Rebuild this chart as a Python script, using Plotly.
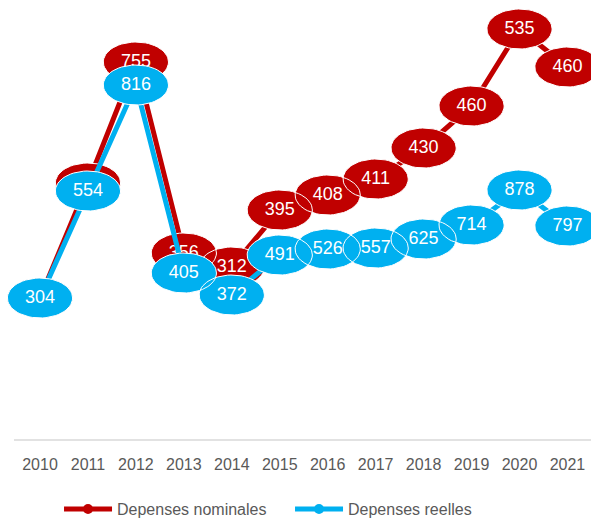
import numpy as np
import plotly.graph_objects as go

# ── Data ──────────────────────────────────────────────────────────────────────
years = [2010, 2011, 2012, 2013, 2014, 2015, 2016, 2017, 2018, 2019, 2020, 2021]

# plotted heights (as drawn in the source chart)
nominal_y = [142, 257, 378, 187, 173, 230, 245, 261, 292, 334, 411, 373]
reelles_y = [142, 249, 355, 167, 145, 185, 191, 192, 201, 215, 250, 214]

# labels written in the bubbles
nominal_labels = ["", "", "755", "356", "312", "395", "408", "411", "430", "460", "535", "460"]
reelles_labels = ["304", "554", "816", "405", "372", "491", "526", "557", "625", "714", "878", "797"]

RED = "#C00000"
BLUE = "#00B0F0"
GREY = "#595959"
FONT = "Liberation Sans, Arial, sans-serif"

X_RANGE = [2009.2492, 2021.4911]
Y_RANGE = [0, 440]
RX, RY = 0.68, 20  # bubble half-width (years) / half-height (y units)


def ellipse_path(xs, ys):
    """Outline of one bubble per point, separated by None so each fills alone."""
    t = np.linspace(0, 2 * np.pi, 60)
    px, py = [], []
    for x, y in zip(xs, ys):
        px += list(x + RX * np.cos(t)) + [None]
        py += list(y + RY * np.sin(t)) + [None]
    return px, py


fig = go.Figure()

for name, ys, labels, color in [
    ("Depenses nominales", nominal_y, nominal_labels, RED),
    ("Depenses reelles", reelles_y, reelles_labels, BLUE),
]:
    fig.add_trace(go.Scatter(
        x=years, y=ys, name=name, mode="lines+markers",
        line=dict(color=color, width=5),
        marker=dict(color=color, size=10),
    ))
    ex, ey = ellipse_path(years, ys)
    fig.add_trace(go.Scatter(
        x=ex, y=ey, mode="lines", fill="toself", fillcolor=color,
        line=dict(color="white", width=1), showlegend=False, hoverinfo="skip",
    ))
    fig.add_trace(go.Scatter(
        x=years, y=ys, mode="text", text=labels,
        textfont=dict(color="white", size=18, family=FONT),
        showlegend=False, cliponaxis=False,
    ))

# baseline (starts a bit right of the plot edge so the 2010 bubble isn't clipped)
fig.add_shape(type="line", xref="paper", yref="paper", x0=0.017, x1=1, y0=0, y1=0,
              line=dict(color="#D9D9D9", width=1.5), layer="below")

fig.update_layout(
    width=598, height=520,
    margin=dict(l=4, r=7, t=0, b=80),
    paper_bgcolor="white", plot_bgcolor="white",
    font=dict(family=FONT, color=GREY, size=16),
    legend=dict(
        orientation="h", xref="container", yref="container",
        x=0.0987, xanchor="left", y=0.021, yanchor="middle",
        font=dict(size=16, color=GREY), itemwidth=48, entrywidth=168,
        tracegroupgap=0,
    ),
    xaxis=dict(
        range=X_RANGE, tickvals=years, ticktext=[str(y) for y in years],
        showgrid=False, zeroline=False, showline=False, automargin=False,
        ticks="outside", ticklen=10, tickcolor="rgba(0,0,0,0)",
        tickfont=dict(size=16, color=GREY),
    ),
    yaxis=dict(range=Y_RANGE, visible=False, automargin=False),
    showlegend=True,
)

# page body has a default 8px margin; drop it so the figure sits at the corner
fig.write_html("out.html", config={"displayModeBar": False},
               post_script="document.body.style.margin='0';")
